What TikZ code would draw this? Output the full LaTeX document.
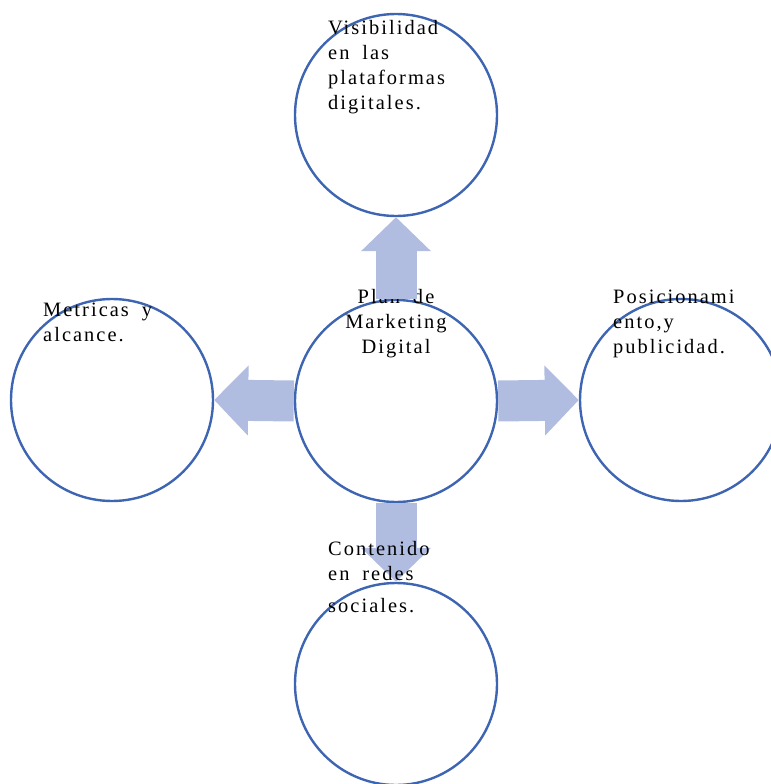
\documentclass[tikz,border=0pt]{standalone}
\usepackage{fontspec}
\setmainfont{Liberation Serif}[LetterSpace=10,WordSpace=1.8]
\usetikzlibrary{arrows.meta}
\definecolor{ringblue}{RGB}{62,101,178}
\definecolor{arrowblue}{RGB}{176,189,224}

\begin{document}
\begin{tikzpicture}[x=1bp,y=-1bp,
ring/.style={%
circle,
draw=ringblue,
line width=2.4bp,
minimum size=202bp,
inner sep=0pt
},
txt/.style={%
anchor=base west,
align=left,
inner sep=0pt,
font=\fontsize{20.5}{25}\selectfont
},
flow/.style={%
draw=arrowblue,
line width=41bp,
-{Triangle[width=68bp,length=34bp]}
},
]
\useasboundingbox (0,0) rectangle (771,784);
%% circles
\node[ring](plan)at(396,401){};
\node[ring](visib)at(396,115){};
\node[ring](metr)at(112,400){};
\node[ring](posic)at(681,400){};
\node[ring](conten)at(396,684){};
%% centre text, under the arrows
\node[txt,anchor=base,align=center](plantxt)at(396,353){Plan de\\Marketing\\Digital};
%% arrows
\draw[flow](plan.north)--(visib.south);
\draw[flow](plan.west)--(metr.east);
\draw[flow](plan.east)--(posic.west);
\draw[flow](plan.south)--(conten.north);
%% texts
\node[txt](visibtxt)at(328,109){Visibilidad\\en las\\plataformas\\digitales.};
\node[txt](metrtxt)at(43,341){Metricas y\\alcance.};
\node[txt](posictxt)at(613,353){Posicionami\\ento,y\\publicidad.};
\node[txt](contentxt)at(328,612){Contenido\\en redes\\[7bp]sociales.};
\end{tikzpicture}
\end{document}
